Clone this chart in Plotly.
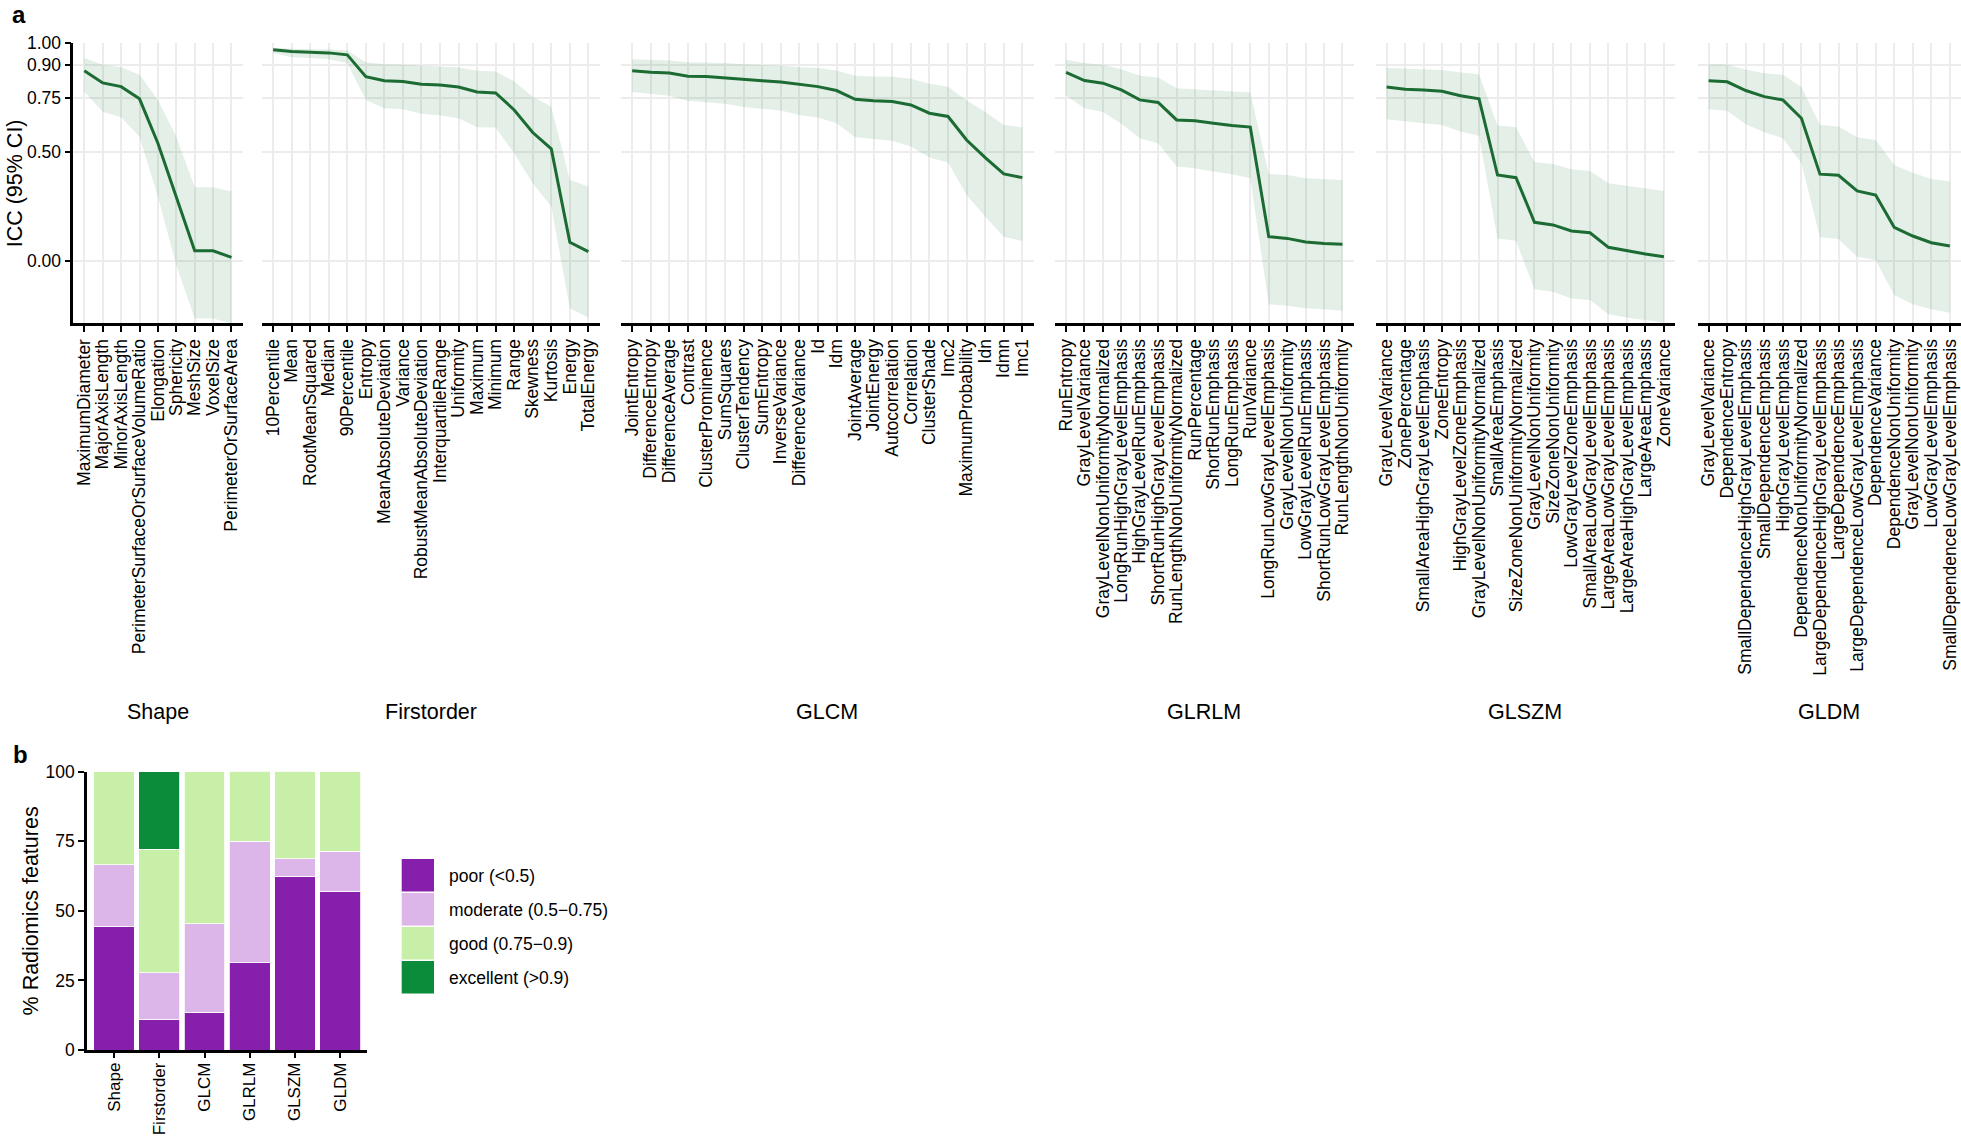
import plotly.graph_objects as go

# ---------------- data ----------------
shape_features = ["MaximumDiameter", "MajorAxisLength", "MinorAxisLength",
                  "PerimeterSurfaceOrSurfaceVolumeRatio", "Elongation", "Sphericity",
                  "MeshSize", "VoxelSize", "PerimeterOrSurfaceArea"]
shape_icc = [0.874, 0.818, 0.801, 0.745, 0.541, 0.290, 0.047, 0.047, 0.017]
shape_lo = [0.778, 0.686, 0.660, 0.571, 0.296, -0.018, -0.264, -0.264, -0.286]
shape_hi = [0.932, 0.901, 0.890, 0.855, 0.740, 0.571, 0.339, 0.339, 0.319]

firstorder_features = ["10Percentile", "Mean", "RootMeanSquared", "Median", "90Percentile",
                       "Entropy", "MeanAbsoluteDeviation", "Variance",
                       "RobustMeanAbsoluteDeviation", "InterquartileRange", "Uniformity",
                       "Maximum", "Minimum", "Range", "Skewness", "Kurtosis", "Energy",
                       "TotalEnergy"]
firstorder_icc = [0.970, 0.962, 0.959, 0.956, 0.947, 0.847, 0.828, 0.824, 0.812, 0.808,
                  0.799, 0.776, 0.772, 0.694, 0.590, 0.515, 0.086, 0.043]
firstorder_lo = [0.955, 0.936, 0.933, 0.927, 0.909, 0.740, 0.702, 0.697, 0.676, 0.670,
                 0.656, 0.615, 0.613, 0.495, 0.357, 0.250, -0.217, -0.259]
firstorder_hi = [0.978, 0.975, 0.973, 0.973, 0.967, 0.913, 0.904, 0.901, 0.897, 0.893,
                 0.889, 0.874, 0.870, 0.824, 0.755, 0.709, 0.372, 0.342]

glcm_features = ["JointEntropy", "DifferenceEntropy", "DifferenceAverage", "Contrast",
                 "ClusterProminence", "SumSquares", "ClusterTendency", "SumEntropy",
                 "InverseVariance", "DifferenceVariance", "Id", "Idm", "JointAverage",
                 "JointEnergy", "Autocorrelation", "Correlation", "ClusterShade", "Imc2",
                 "MaximumProbability", "Idn", "Idmn", "Imc1"]
glcm_icc = [0.874, 0.867, 0.864, 0.849, 0.847, 0.840, 0.832, 0.828, 0.822, 0.812, 0.801,
            0.783, 0.743, 0.736, 0.733, 0.717, 0.679, 0.664, 0.556, 0.475, 0.400, 0.383]
glcm_lo = [0.776, 0.766, 0.759, 0.736, 0.730, 0.722, 0.707, 0.699, 0.691, 0.671, 0.659,
           0.633, 0.569, 0.560, 0.553, 0.526, 0.475, 0.452, 0.303, 0.204, 0.112, 0.092]
glcm_hi = [0.927, 0.924, 0.921, 0.913, 0.912, 0.909, 0.904, 0.901, 0.897, 0.890, 0.886,
           0.875, 0.851, 0.847, 0.846, 0.837, 0.814, 0.801, 0.737, 0.686, 0.625, 0.615]

glrlm_features = ["RunEntropy", "GrayLevelVariance", "GrayLevelNonUniformityNormalized",
                  "LongRunHighGrayLevelEmphasis", "HighGrayLevelRunEmphasis",
                  "ShortRunHighGrayLevelEmphasis", "RunLengthNonUniformityNormalized",
                  "RunPercentage", "ShortRunEmphasis", "LongRunEmphasis", "RunVariance",
                  "LongRunLowGrayLevelEmphasis", "GrayLevelNonUniformity",
                  "LowGrayLevelRunEmphasis", "ShortRunLowGrayLevelEmphasis",
                  "RunLengthNonUniformity"]
glrlm_icc = [0.866, 0.829, 0.817, 0.786, 0.740, 0.728, 0.648, 0.644, 0.633, 0.622, 0.615,
             0.112, 0.104, 0.087, 0.081, 0.077]
glrlm_lo = [0.760, 0.702, 0.684, 0.630, 0.564, 0.541, 0.434, 0.426, 0.411, 0.399, 0.380,
            -0.198, -0.205, -0.217, -0.222, -0.228]
glrlm_hi = [0.924, 0.909, 0.901, 0.881, 0.851, 0.843, 0.794, 0.789, 0.783, 0.778, 0.774,
            0.400, 0.395, 0.380, 0.376, 0.372]

glszm_features = ["GrayLevelVariance", "ZonePercentage", "SmallAreaHighGrayLevelEmphasis",
                  "ZoneEntropy", "HighGrayLevelZoneEmphasis",
                  "GrayLevelNonUniformityNormalized", "SmallAreaEmphasis",
                  "SizeZoneNonUniformityNormalized", "GrayLevelNonUniformity",
                  "SizeZoneNonUniformity", "LowGrayLevelZoneEmphasis",
                  "SmallAreaLowGrayLevelEmphasis", "LargeAreaLowGrayLevelEmphasis",
                  "LargeAreaHighGrayLevelEmphasis", "LargeAreaEmphasis", "ZoneVariance"]
glszm_icc = [0.799, 0.789, 0.785, 0.780, 0.759, 0.745, 0.395, 0.383, 0.178, 0.166, 0.138,
             0.130, 0.063, 0.047, 0.032, 0.020]
glszm_lo = [0.651, 0.641, 0.633, 0.625, 0.595, 0.575, 0.104, 0.093, -0.130, -0.141, -0.172,
            -0.179, -0.245, -0.259, -0.271, -0.284]
glszm_hi = [0.886, 0.883, 0.880, 0.877, 0.866, 0.858, 0.622, 0.615, 0.454, 0.446, 0.422,
            0.414, 0.357, 0.346, 0.334, 0.322]

gldm_features = ["GrayLevelVariance", "DependenceEntropy",
                 "SmallDependenceHighGrayLevelEmphasis", "SmallDependenceEmphasis",
                 "HighGrayLevelEmphasis", "DependenceNonUniformityNormalized",
                 "LargeDependenceHighGrayLevelEmphasis", "LargeDependenceEmphasis",
                 "LargeDependenceLowGrayLevelEmphasis", "DependenceVariance",
                 "DependenceNonUniformity", "GrayLevelNonUniformity",
                 "LowGrayLevelEmphasis", "SmallDependenceLowGrayLevelEmphasis"]
gldm_icc = [0.828, 0.823, 0.783, 0.755, 0.740, 0.656, 0.399, 0.394, 0.322, 0.303, 0.155,
            0.115, 0.084, 0.069]
gldm_lo = [0.697, 0.690, 0.628, 0.592, 0.564, 0.449, 0.109, 0.101, 0.020, 0.005, -0.156,
           -0.198, -0.222, -0.238]
gldm_hi = [0.904, 0.903, 0.878, 0.863, 0.855, 0.799, 0.625, 0.618, 0.569, 0.556, 0.441,
           0.406, 0.377, 0.365]

icc_tick_vals = [0.0, 0.5, 0.75, 0.9, 1.0]
icc_tick_text = ["0.00", "0.50", "0.75", "0.90", "1.00"]

categories = ["Shape", "Firstorder", "GLCM", "GLRLM", "GLSZM", "GLDM"]
pct_poor = [44.4, 11.1, 13.6, 31.3, 62.5, 57.1]
pct_moderate = [22.2, 16.7, 31.8, 43.8, 6.3, 14.3]
pct_good = [33.3, 44.4, 54.5, 25.0, 31.3, 28.6]
pct_excellent = [0.0, 27.8, 0.0, 0.0, 0.0, 0.0]
class_labels = ["poor (<0.5)", "moderate (0.5\u22120.75)", "good (0.75\u22120.9)", "excellent (>0.9)"]
pct_ticks = [0, 25, 50, 75, 100]

# ---------------- style / layout helpers ----------------
W, H = 1961, 1137


def fx(px):
    return px / W


def fy(py):
    return 1 - py / H


FONT = "Liberation Sans, Arial, Helvetica, sans-serif"
LINE_COLOR = "#1b6b33"
BAND_COLOR = "rgba(27,120,55,0.12)"
GRID = "#ececec"
CLASS_COLORS = ["#861fab", "#ddb6e9", "#c8efa7", "#0a8c3a"]
TICK_SIZE = 17.5
TITLE_SIZE = 21.5

panels = [
    ("Shape", shape_features, shape_icc, shape_lo, shape_hi),
    ("Firstorder", firstorder_features, firstorder_icc, firstorder_lo, firstorder_hi),
    ("GLCM", glcm_features, glcm_icc, glcm_lo, glcm_hi),
    ("GLRLM", glrlm_features, glrlm_icc, glrlm_lo, glrlm_hi),
    ("GLSZM", glszm_features, glszm_icc, glszm_lo, glszm_hi),
    ("GLDM", gldm_features, gldm_icc, gldm_lo, gldm_hi),
]
panel_px = [(73.3, 242.5), (262, 599.5), (621, 1033.5), (1055, 1353.5),
            (1375.5, 1675), (1697.5, 1961)]
A_TOP, A_BOT = 43.3, 323.3

fig = go.Figure()
layout = {}
annotations = []
shapes = []

for i, (name, feats, icc, lo, hi) in enumerate(panels):
    k = "" if i == 0 else str(i + 1)
    xa, ya = "x" + k, "y" + k
    fig.add_trace(go.Scatter(x=feats, y=lo, xaxis=xa, yaxis=ya, mode="lines",
                             line=dict(width=0, color=BAND_COLOR), showlegend=False,
                             hoverinfo="skip"))
    fig.add_trace(go.Scatter(x=feats, y=hi, xaxis=xa, yaxis=ya, mode="lines",
                             line=dict(width=0, color=BAND_COLOR), fill="tonexty",
                             fillcolor=BAND_COLOR, showlegend=False, hoverinfo="skip"))
    fig.add_trace(go.Scatter(x=feats, y=icc, xaxis=xa, yaxis=ya, mode="lines",
                             line=dict(width=3, color=LINE_COLOR), showlegend=False,
                             name=name))
    x0, x1 = panel_px[i]
    layout["xaxis" + k] = dict(
        domain=[fx(x0), fx(x1)], anchor=ya, type="category", automargin=False,
        categoryorder="array", categoryarray=feats,
        range=[-0.6, len(feats) - 0.4],
        tickmode="array", tickvals=feats, ticktext=feats, tickangle=-90,
        showline=True, linecolor="black", linewidth=2.5,
        ticks="outside", ticklen=6, tickwidth=2, tickcolor="black",
        showgrid=True, gridcolor=GRID, gridwidth=2, zeroline=False,
        tickfont=dict(size=TICK_SIZE, color="black", family=FONT),
    )
    first = i == 0
    layout["yaxis" + k] = dict(
        domain=[fy(A_BOT), fy(A_TOP)], anchor=xa, range=[-0.286, 1.0], automargin=False,
        tickmode="array", tickvals=icc_tick_vals, ticktext=icc_tick_text,
        showgrid=True, gridcolor=GRID, gridwidth=2, zeroline=False,
        showticklabels=first, showline=first, linecolor="black", linewidth=2.5,
        ticks="outside" if first else "", ticklen=6, tickwidth=2, tickcolor="black",
        tickfont=dict(size=TICK_SIZE, color="black", family=FONT),
    )
    annotations.append(dict(text=name, x=fx((x0 + x1) / 2), y=fy(711.7), xref="paper",
                            yref="paper", xanchor="center", yanchor="middle",
                            showarrow=False,
                            font=dict(size=TITLE_SIZE, color="black", family=FONT)))

# ---------------- panel b ----------------
for vals, lab, col in zip([pct_poor, pct_moderate, pct_good, pct_excellent],
                          class_labels, CLASS_COLORS):
    fig.add_trace(go.Bar(x=categories, y=vals, xaxis="x7", yaxis="y7", name=lab,
                         marker=dict(color=col, line=dict(color="white", width=0.8)),
                         width=0.9, showlegend=False))

B_LEFT, B_RIGHT, B_TOP, B_BOT = 87, 367.3, 771.7, 1050
layout["xaxis7"] = dict(
    domain=[fx(B_LEFT), fx(B_RIGHT)], anchor="y7", type="category", automargin=False,
    categoryorder="array", categoryarray=categories, range=[-0.6, 5.6],
    tickmode="array", tickvals=categories, ticktext=categories, tickangle=-90,
    showline=True, linecolor="black", linewidth=2.5, ticks="outside", ticklen=5,
    tickwidth=2, tickcolor="black", showgrid=False, zeroline=False,
    ticklabelstandoff=-2,
    tickfont=dict(size=17, color="black", family=FONT),
)
layout["yaxis7"] = dict(
    domain=[fy(B_BOT), fy(B_TOP)], anchor="x7", range=[0, 100], automargin=False,
    tickmode="array", tickvals=pct_ticks, ticktext=[str(v) for v in pct_ticks],
    showline=True, linecolor="black", linewidth=2.5, ticks="outside", ticklen=6,
    tickwidth=2, tickcolor="black", showgrid=False, zeroline=False,
    tickfont=dict(size=TICK_SIZE, color="black", family=FONT),
)

# legend (drawn manually)
key_top = 859.0
for j, (lab, col) in enumerate(zip(class_labels, CLASS_COLORS)):
    t = key_top + j * 34.0
    shapes.append(dict(type="rect", xref="paper", yref="paper",
                       x0=fx(401.7), x1=fx(434), y0=fy(t + 32.5), y1=fy(t),
                       fillcolor=col, line=dict(width=0)))
    annotations.append(dict(text=lab, x=fx(446.5), y=fy(t + 16.5), xref="paper",
                            yref="paper", xanchor="left", yanchor="middle",
                            showarrow=False,
                            font=dict(size=TICK_SIZE, color="black", family=FONT)))

# titles and panel letters
annotations += [
    dict(text="ICC (95% CI)", x=fx(15), y=fy((A_TOP + A_BOT) / 2), textangle=-90,
         xref="paper", yref="paper", xanchor="center", yanchor="middle", showarrow=False,
         font=dict(size=TITLE_SIZE, color="black", family=FONT)),
    dict(text="% Radiomics features", x=fx(30.6), y=fy((B_TOP + B_BOT) / 2), textangle=-90,
         xref="paper", yref="paper", xanchor="center", yanchor="middle", showarrow=False,
         font=dict(size=TITLE_SIZE, color="black", family=FONT)),
    dict(text="<b>a</b>", x=fx(10), y=fy(14.5), xref="paper", yref="paper",
         xanchor="left", yanchor="middle", showarrow=False,
         font=dict(size=24, color="black", family=FONT)),
    dict(text="<b>b</b>", x=fx(11), y=fy(754), xref="paper", yref="paper",
         xanchor="left", yanchor="middle", showarrow=False,
         font=dict(size=24, color="black", family=FONT)),
]

fig.update_layout(
    width=W, height=H, margin=dict(l=0, r=0, t=0, b=0, autoexpand=False),
    paper_bgcolor="white", plot_bgcolor="white", barmode="stack",
    font=dict(family=FONT, color="black"), showlegend=False,
    annotations=annotations, shapes=shapes, **layout,
)

fig.write_html("out.html", config={"displayModeBar": False},
               post_script="document.body.style.margin='0';")
